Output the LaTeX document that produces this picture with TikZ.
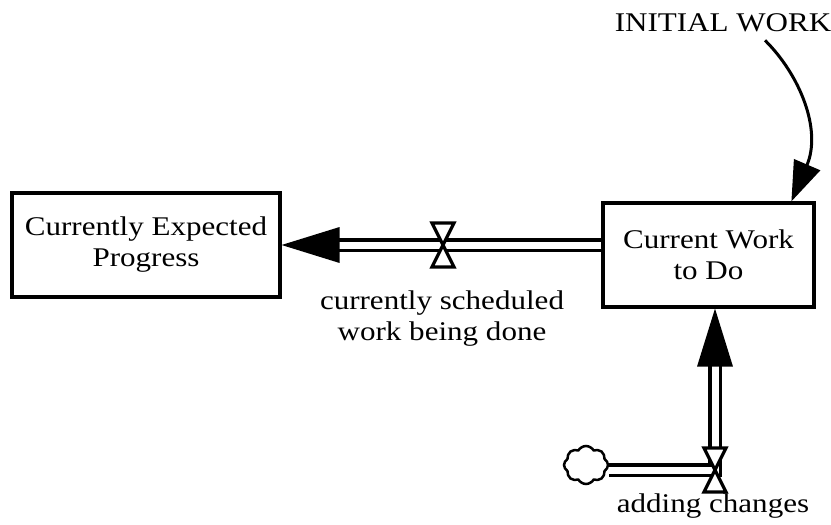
\documentclass[tikz,border=0pt]{standalone}
\usepackage{fontspec}
\setmainfont{Liberation Serif}[FakeStretch=1.15]
\usetikzlibrary{arrows.meta,calc,shapes.symbols}
\tikzset{
  stock/.style={draw,line width=3.2pt,align=center,inner sep=0pt},
  pipe/.style={draw,double,double distance=7pt,line width=3.2pt},
  valve/.pic={\draw[fill=white,line width=3.2pt,line join=miter]
    (-11,-22)--(11,-22)--(-11,22)--(11,22)--cycle;},
  lbl/.style={align=center,inner sep=0pt}
}
\begin{document}
\begin{tikzpicture}[x=1pt,y=-1pt,font=\fontsize{27}{31}\selectfont]
\useasboundingbox (0,0) rectangle (831,525);
\node[stock,minimum width=268,minimum height=104] (cep) at (146,245) {Currently Expected\\Progress};
\node[stock,minimum width=211,minimum height=104] (cwd) at (708.5,255) {Current Work\\to Do};
\node[lbl] (iw) at (723,23) {INITIAL WORK};
\coordinate (v1) at (443,245);
\coordinate (v2) at (715,470);
\node[cloud,draw,line width=2.5pt,cloud puffs=8,cloud puff arc=120,aspect=1.1,minimum width=44,minimum height=38,inner sep=0pt] (src) at (586,465) {};
% flows
\draw[pipe] (cwd.west |- v1) -- ($(cep.east |- v1)+(50,0)$);
\fill ($(cep.east |- v1)$) -- ++(58,-18) -- ++(0,36) -- cycle;
\draw[pipe] (src.east |- v2) -- (v2) -- ($(cwd.south -| v2)+(0,50)$);
\fill ($(cwd.south -| v2)$) -- ++(-18,58) -- ++(36,0) -- cycle;
\pic at (v1) {valve};
\pic at (v2) {valve};
\node[lbl] (l1) at (442,319) {currently scheduled\\work being done};
\node[lbl] (l2) at (713,506) {adding changes};
% info arrow
\draw[line width=3pt,-{Triangle[length=40pt,width=28pt]}] ($(iw.south)+(42,8)$)
  .. controls (800,75) and (822,130) .. ($(cwd.north west)+(190,0)$);
\end{tikzpicture}
\end{document}
